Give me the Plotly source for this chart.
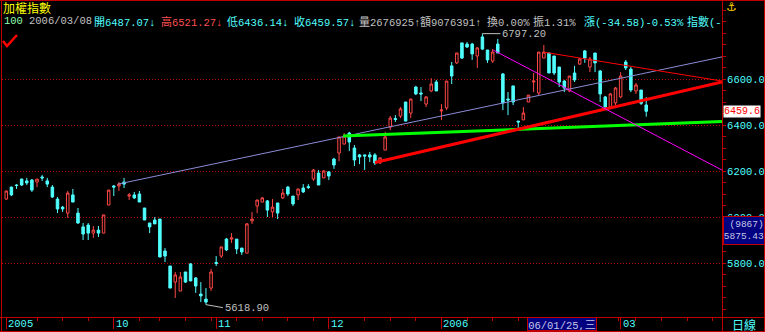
import plotly.graph_objects as go

# ---------------- data ----------------
opens = [6078, 6130, 6139, 6165, 6157, 6161, 6152, 6174, 6157, 6130,
         6078, 6043, 6017, 6096, 6017, 5957, 5965, 5930, 5943, 5930,
         6052, 6135, 6135, 6152, 6091, 6096, 6100, 6039, 5974, 5987,
         5991, 5852, 5787, 5717, 5678, 5761, 5796, 5735, 5665, 5643,
         5691, 5802, 5830, 5904, 5904, 5904, 5865, 5843, 5983, 6048,
         6065, 6070, 6022, 6061, 6083, 6130, 6091, 6096, 6126, 6132,
         6165, 6191, 6170, 6196, 6252, 6278, 6317, 6365, 6300, 6270,
         6270, 6270, 6270, 6235, 6291, 6391, 6428, 6439, 6500, 6452,
         6565, 6539, 6491, 6548, 6587, 6461, 6474, 6657, 6670, 6757,
         6752, 6752, 6700, 6783, 6726, 6678, 6752, 6622, 6513, 6570,
         6417, 6422, 6500, 6587, 6539, 6691, 6713, 6700, 6652, 6591,
         6548, 6626, 6665, 6722, 6652, 6713, 6635, 6522, 6478, 6496,
         6522, 6674, 6643, 6548, 6552, 6487.07]
highs = [6115, 6132, 6143, 6167, 6170, 6165, 6165, 6183, 6170, 6139,
         6087, 6048, 6113, 6122, 6039, 5974, 5974, 5961, 5961, 6009,
         6117, 6139, 6152, 6170, 6104, 6109, 6113, 6039, 5974, 6000,
         5991, 5865, 5787, 5761, 5761, 5761, 5800, 5739, 5717, 5691,
         5774, 5830, 5870, 5909, 5930, 5904, 5865, 5974, 6022, 6074,
         6087, 6074, 6078, 6061, 6122, 6135, 6091, 6122, 6143, 6143,
         6209, 6204, 6204, 6200, 6257, 6348, 6365, 6370, 6313, 6274,
         6270, 6283, 6278, 6257, 6370, 6439, 6443, 6478, 6500, 6513,
         6570, 6565, 6526, 6604, 6596, 6491, 6591, 6674, 6713, 6757,
         6761, 6757, 6739, 6797.20, 6726, 6730, 6774, 6626, 6543, 6570,
         6417, 6478, 6530, 6626, 6717, 6748, 6713, 6700, 6652, 6596,
         6613, 6657, 6691, 6726, 6696, 6713, 6639, 6526, 6539, 6565,
         6630, 6683, 6652, 6583, 6552, 6521.27]
lows = [6075, 6091, 6122, 6135, 6139, 6109, 6130, 6157, 6130, 6083,
        6017, 6022, 5996, 6065, 5970, 5900, 5900, 5909, 5913, 5930,
        6052, 6091, 6113, 6126, 6074, 6078, 6065, 5987, 5930, 5970,
        5826, 5804, 5691, 5648, 5678, 5713, 5722, 5670, 5630, 5618.90,
        5678, 5787, 5822, 5852, 5887, 5839, 5835, 5843, 5970, 6017,
        6065, 6000, 6000, 5991, 6078, 6091, 6048, 6074, 6104, 6122,
        6157, 6139, 6170, 6161, 6209, 6243, 6317, 6287, 6222, 6230,
        6204, 6239, 6226, 6230, 6291, 6378, 6413, 6430, 6417, 6430,
        6530, 6504, 6478, 6543, 6548, 6422, 6465, 6578, 6665, 6687,
        6735, 6683, 6648, 6726, 6670, 6670, 6713, 6465, 6443, 6487,
        6387, 6422, 6500, 6543, 6530, 6691, 6626, 6617, 6565, 6543,
        6543, 6587, 6661, 6670, 6630, 6630, 6500, 6474, 6474, 6487,
        6517, 6639, 6543, 6535, 6487, 6436.14]
closes = [6113, 6096, 6137, 6139, 6148, 6117, 6165, 6170, 6143, 6087,
          6035, 6035, 6104, 6065, 5974, 5926, 5930, 5943, 5930, 6009,
          6117, 6130, 6143, 6143, 6096, 6083, 6065, 5987, 5957, 5970,
          5826, 5830, 5691, 5748, 5739, 5717, 5722, 5700, 5657, 5630,
          5761, 5798, 5870, 5857, 5909, 5861, 5848, 5970, 5991, 6074,
          6083, 6030, 6043, 6017, 6104, 6100, 6057, 6122, 6109, 6128,
          6204, 6139, 6200, 6178, 6226, 6348, 6352, 6326, 6248, 6261,
          6265, 6261, 6235, 6257, 6348, 6430, 6424, 6470, 6417, 6513,
          6535, 6535, 6522, 6578, 6548, 6465, 6591, 6613, 6713, 6691,
          6739, 6709, 6735, 6730, 6683, 6717, 6713, 6496, 6509, 6500,
          6413, 6452, 6530, 6591, 6717, 6717, 6626, 6626, 6587, 6561,
          6613, 6596, 6687, 6691, 6687, 6670, 6535, 6478, 6535, 6561,
          6613, 6648, 6552, 6574, 6494.15, 6459.57]
bars = list(range(1, len(opens) + 1))

month_bars = [1, 22, 42, 64, 86, 121]
month_labels = ["2005", "10", "11", "12", "2006", "03"]
week_bars = [7, 12, 17, 27, 31, 36, 41, 46, 51, 56, 61, 71, 76, 81,
             91, 96, 101, 120.5, 124, 129, 134, 139]

price_ticks = [5800, 6000, 6200, 6400, 6600]
price_labels = ["5800.0", "6000.0", "6200.0", "6400.0", "6600.0"]

# drawn trend lines: (bar index, price)
purple_x, purple_y = [22.8, 140.8], [6143, 6696]
green_x, green_y = [66.8, 140.8], [6352, 6415]
redthick_x, redthick_y = [73, 140.8], [6237, 6587]
redthin_x, redthin_y = [106.2, 140.8], [6716, 6591]
magenta_x, magenta_y = [96.1, 140.8], [6726, 6204]

high_bar, high_val = 94, 6797.20
low_bar, low_val = 40, 5618.90
last_close = 6459.57

# ---------------- styling ----------------
W, H = 765, 332
ML, MR, MT, MB = 2, 43, 0, 15
PW, PH = W - ML - MR, H - MT - MB
RED = "#ff4848"
CYAN = "#50ffff"
FRAME = "#c00000"
GRAY = "#c0c0c0"
MONO = "Liberation Mono, DejaVu Sans Mono, monospace"
CJK = "Noto Sans CJK TC"


def PX(x):
    return (x - ML) / PW


def PY(y):
    return (MT + PH - y) / PH


fig = go.Figure()
fig.add_trace(go.Candlestick(
    x=bars, open=opens, high=highs, low=lows, close=closes,
    increasing=dict(line=dict(color=RED, width=1), fillcolor="#000000"),
    decreasing=dict(line=dict(color=CYAN, width=1), fillcolor=CYAN),
    whiskerwidth=0, hoverinfo="skip", showlegend=False))

for xs, ys, col, w in [(purple_x, purple_y, "#8c8cd8", 1),
                       (green_x, green_y, "#00ff00", 3),
                       (redthick_x, redthick_y, "#ff0000", 3),
                       (redthin_x, redthin_y, "#ff0000", 1),
                       (magenta_x, magenta_y, "#ff00ff", 1)]:
    fig.add_trace(go.Scatter(x=xs, y=ys, mode="lines",
                             line=dict(color=col, width=w),
                             hoverinfo="skip", showlegend=False))

ann = []


def cj(s, size=11):
    return "<span style='font-family:%s;font-size:%dpx'>%s</span>" % (CJK, size, s)


# header
ann.append(dict(x=PX(1), y=PY(8), text=cj("加權指數", 12), font=dict(color="#ffff00", size=12, family=CJK)))
row2 = [(2, "100", "#90ffb0"),
        (27, "2006/03/08", GRAY),
        (92, cj("開") + "6487.07↓", CYAN),
        (159, cj("高") + "6521.27↓", "#ff5050"),
        (225, cj("低") + "6436.14↓", CYAN),
        (292, cj("收") + "6459.57↓", CYAN),
        (357, cj("量") + "2676925↑", GRAY),
        (418, cj("額") + "9076391↑", GRAY),
        (485, cj("換") + "0.00%", GRAY),
        (531, cj("振") + "1.31%", GRAY),
        (582, cj("漲") + "(-34.58)-0.53%", CYAN),
        (685, cj("指數") + "(-", CYAN)]
for x0, t, c in row2:
    ann.append(dict(x=PX(x0), y=PY(21), text=t, font=dict(color=c, size=10.5, family=MONO)))
for a in ann:
    a.update(xref="paper", yref="paper", xanchor="left", yanchor="middle", showarrow=False)

# month labels
for b, lab in zip(month_bars, month_labels):
    ann.append(dict(x=b, xref="x", y=PY(324), yref="paper", text=lab, showarrow=False,
                    xanchor="left", yanchor="middle",
                    font=dict(color=CYAN, size=10.5, family=MONO)))

# high / low labels
ann.append(dict(x=high_bar, y=high_val, xref="x", yref="y", text="%.2f" % high_val,
                showarrow=True, arrowhead=0, arrowwidth=1, arrowcolor=GRAY, ax=18, ay=0,
                xanchor="left", yanchor="middle", font=dict(color=GRAY, size=10.5, family=MONO)))
ann.append(dict(x=low_bar, y=low_val, xref="x", yref="y", text="%.2f" % low_val,
                showarrow=True, arrowhead=0, arrowwidth=1, arrowcolor=GRAY, ax=17, ay=3,
                xanchor="left", yanchor="middle", font=dict(color=GRAY, size=10.5, family=MONO)))

# last price marker
ann.append(dict(x=PX(723), xref="paper", y=last_close, yref="y", text="%.1f" % last_close,
                showarrow=False, xanchor="left", yanchor="middle", bgcolor="#ffffff",
                borderpad=0, font=dict(color="#ff0000", size=10, family=MONO)))
# cursor readout box
ann.append(dict(x=PX(722.5), y=PY(216), xref="paper", yref="paper",
                text="(9867)<br>5875.43", showarrow=False, xanchor="left", yanchor="top",
                bgcolor="#000080", bordercolor=FRAME, borderwidth=1, borderpad=0, width=40,
                height=27, align="right", font=dict(color="#c8c8e8", size=9.5, family=MONO)))
# date cursor box
ann.append(dict(x=PX(527), y=PY(317), xref="paper", yref="paper",
                text="06/01/25," + cj("三", 11), showarrow=False, xanchor="left", yanchor="top",
                bgcolor="#000080", bordercolor=FRAME, borderwidth=1, borderpad=0, width=68, height=12,
                font=dict(color="#c8c8e8", size=10.5, family=MONO)))
# period label and icon
ann.append(dict(x=PX(744), y=PY(324), xref="paper", yref="paper", text="日線", showarrow=False,
                xanchor="center", yanchor="middle", font=dict(color=CYAN, size=12, family=CJK)))
ann.append(dict(x=PX(731), y=PY(7), xref="paper", yref="paper", text="⚓", showarrow=False,
                xanchor="center", yanchor="middle", font=dict(color="#ffd000", size=12, family="DejaVu Sans")))

shapes = []


def hline(y, x0=0, x1=W, color=FRAME, w=1):
    shapes.append(dict(type="line", xref="paper", yref="paper", x0=PX(x0), x1=PX(x1),
                       y0=PY(y), y1=PY(y), line=dict(color=color, width=w)))


def vline(x, y0=0, y1=H, color=FRAME, w=1):
    shapes.append(dict(type="line", xref="paper", yref="paper", x0=PX(x), x1=PX(x),
                       y0=PY(y0), y1=PY(y1), line=dict(color=color, width=w)))


hline(0.5)
hline(317.5)
hline(331.5)
vline(1.5)
vline(722.5)
vline(764.5)
# check mark
shapes.append(dict(type="path", xref="paper", yref="paper",
                   path="M %f,%f L %f,%f L %f,%f" % (PX(3), PY(41), PX(7), PY(46), PX(17), PY(35)),
                   line=dict(color="#ff0000", width=2.5)))

fig.update_layout(
    width=W, height=H, margin=dict(l=ML, r=MR, t=MT, b=MB),
    paper_bgcolor="#000000", plot_bgcolor="#000000",
    annotations=ann, shapes=shapes, showlegend=False,
    xaxis=dict(range=[0.16, 140.8], rangeslider=dict(visible=False), showgrid=False,
               zeroline=False, showline=False, tickmode="array", tickvals=month_bars,
               showticklabels=False, ticks="outside", ticklen=11, tickcolor=FRAME, tickwidth=1,
               minor=dict(tickmode="array", tickvals=week_bars, ticks="outside", ticklen=3,
                          tickcolor=FRAME, showgrid=False)),
    yaxis=dict(range=[5565.2, 6943.5], side="right", tickmode="array", tickvals=price_ticks,
               ticktext=price_labels, showgrid=True, gridcolor="#c00000", griddash="1px,2px",
               gridwidth=1, zeroline=False, showline=False, ticks="outside", ticklen=2,
               tickcolor=FRAME, automargin=False,
               tickfont=dict(color=CYAN, size=10.5, family=MONO),
               minor=dict(dtick=50, ticks="outside", ticklen=3, tickcolor=FRAME, showgrid=False)),
)

fig.write_html("out.html")
